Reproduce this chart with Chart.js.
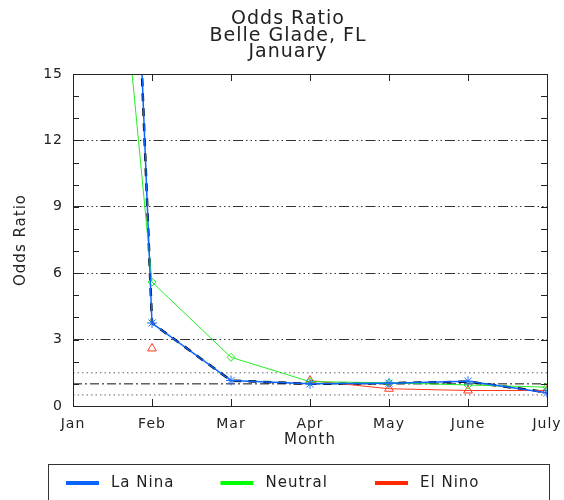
<!DOCTYPE html>
<html>
<head>
<meta charset="utf-8">
<style>
  html, body { margin: 0; padding: 0; background: #fff; }
  #wrap { width: 564px; height: 500px; position: relative; }
</style>
<script src="https://cdn.jsdelivr.net/npm/chart.js@4/dist/chart.umd.min.js"></script>
</head>
<body>
<div id="wrap"><canvas id="c" width="564" height="500"></canvas></div>
<script>
// Months on the x axis (index 0 = Jan)
const months = ['Jan', 'Feb', 'Mar', 'Apr', 'May', 'June', 'July'];

// Odds ratio per ENSO phase, by month (Jan values run far above the 15 cap)
const laNina  = [93, 3.75, 1.15, 1.0, 1.03, 1.12, 0.6];
const neutral = [43, 5.6, 2.2, 1.1, 1.05, 0.95, 0.85];
const elNino  = [null, 2.6, null, 1.15, 0.78, 0.7, 0.7];
// All-years curve drawn as heavy black dashes
const allYears = [92, 3.75, 1.15, 1.0, 1.03, 1.1, 0.62];

// Reference levels
const refOne = 1.0;
const refDotted = [1.5, 0.5];
const yMajorTicks = [0, 3, 6, 9, 12, 15];

const titleLines = ['Odds Ratio', 'Belle Glade, FL', 'January'];
const FONT = 'DejaVu Sans';

const toXY = arr => arr.map((v, i) => ({ x: i, y: v }));
const flat = v => [{ x: 0, y: v }, { x: months.length - 1, y: v }];

const datasets = [
  { label: '_ref1', data: flat(refOne), borderColor: '#111', borderWidth: 1,
    borderDash: [9, 3, 2, 3], pointRadius: 0, order: 10 },
  ...refDotted.map(v => ({ label: '_dot', data: flat(v), borderColor: '#666', borderWidth: 1,
    borderDash: [1.5, 3], pointRadius: 0, order: 10 })),
  { label: '_all', data: toXY(allYears), borderColor: '#000', borderWidth: 2.5,
    borderDash: [8, 7], pointRadius: 0, order: 5 },
  { label: 'La Nina', data: toXY(laNina), borderColor: '#0a64ff', borderWidth: 1.5,
    pointStyle: 'star', pointRadius: 5, pointBorderColor: '#1a6dff', pointBorderWidth: 1,
    pointBackgroundColor: 'transparent', order: 1 },
  { label: 'Neutral', data: toXY(neutral), borderColor: '#22ee22', borderWidth: 1,
    pointStyle: 'rectRot', pointRadius: 4, pointBorderColor: '#22ee22', pointBorderWidth: 1,
    pointBackgroundColor: 'transparent', order: 2 },
  { label: 'El Nino', data: toXY(elNino), borderColor: '#ff3a1a', borderWidth: 1,
    pointStyle: 'triangle', pointRadius: 5, pointBorderColor: '#ff3a1a', pointBorderWidth: 1,
    pointBackgroundColor: 'transparent', order: 3 }
];

const legendColors = { 'La Nina': '#0a64ff', 'Neutral': '#00ff00', 'El Nino': '#ff2a00' };

// Frame, inward tick marks, title block and boxed legend
const decor = {
  id: 'decor',
  beforeDraw(chart) { chart.ctx.letterSpacing = '1px'; },
  afterDraw(chart) {
    const { ctx, chartArea: a, scales: { x, y } } = chart;
    ctx.save();
    ctx.letterSpacing = '0px';
    ctx.strokeStyle = '#222';
    ctx.lineWidth = 1;
    ctx.strokeRect(Math.round(a.left) + 0.5, Math.round(a.top) + 0.5,
                   Math.round(a.right - a.left), Math.round(a.bottom - a.top));
    ctx.beginPath();
    for (let v = 0; v <= 15; v++) {
      const py = Math.round(y.getPixelForValue(v)) + 0.5;
      ctx.moveTo(a.left, py); ctx.lineTo(a.left + 6, py);
      ctx.moveTo(a.right, py); ctx.lineTo(a.right - 6, py);
    }
    months.forEach((m, i) => {
      const px = Math.round(x.getPixelForValue(i)) + 0.5;
      ctx.moveTo(px, a.bottom); ctx.lineTo(px, a.bottom - 7);
      ctx.moveTo(px, a.top); ctx.lineTo(px, a.top + 7);
    });
    ctx.stroke();

    // title block
    ctx.letterSpacing = '1px';
    ctx.fillStyle = '#222';
    ctx.font = '19px "' + FONT + '"';
    ctx.textAlign = 'center';
    ctx.textBaseline = 'alphabetic';
    const baselines = [24, 41, 57];
    titleLines.forEach((t, i) => ctx.fillText(t, 288, baselines[i]));

    // legend box
    ctx.strokeStyle = '#333';
    ctx.strokeRect(48.5, 464.5, 501, 60);
    ctx.font = '15px "' + FONT + '"';
    ctx.textAlign = 'left';
    ctx.textBaseline = 'middle';
    const items = chart.data.datasets.filter(d => !d.label.startsWith('_'));
    items.forEach((d, i) => {
      const x0 = 66 + i * 154.5;
      ctx.strokeStyle = legendColors[d.label];
      ctx.lineWidth = 4;
      ctx.beginPath();
      ctx.moveTo(x0, 483); ctx.lineTo(x0 + 33, 483);
      ctx.stroke();
      ctx.fillStyle = '#222';
      ctx.fillText(d.label, x0 + 45, 483);
    });
    ctx.restore();
  }
};

new Chart(document.getElementById('c'), {
  type: 'line',
  data: { datasets },
  plugins: [decor],
  options: {
    responsive: false,
    animation: false,
    layout: { padding: { top: 74, right: 17, left: 0, bottom: 48 } },
    plugins: { legend: { display: false }, title: { display: false }, tooltip: { enabled: false } },
    elements: { line: { tension: 0 } },
    scales: {
      x: {
        type: 'linear', min: 0, max: months.length - 1,
        afterFit: s => { s.height = 46; s.paddingLeft = 0; s.paddingRight = 0; },
        grid: { display: false, drawTicks: false },
        border: { color: '#222' },
        ticks: { stepSize: 1, padding: 10, color: '#222', font: { family: FONT, size: 14 },
                 callback: v => months[v] },
        title: { display: true, text: 'Month', color: '#222', font: { family: FONT, size: 15 },
                 padding: { top: 0, bottom: 3 } }
      },
      y: {
        min: 0, max: 15,
        afterFit: s => { s.width = 73; s.paddingTop = 0; s.paddingBottom = 0; },
        afterBuildTicks: s => { s.ticks = yMajorTicks.map(v => ({ value: v })); },
        grid: { drawTicks: false,
                color: c => (c.tick && c.tick.value > 0 && c.tick.value < 15) ? '#333' : 'transparent' },
        border: { color: '#222', dash: [10, 3, 1.5, 3, 1.5, 3, 1.5, 3] },
        ticks: { padding: 10, color: '#222', font: { family: FONT, size: 14 } },
        title: { display: true, text: 'Odds Ratio', color: '#222', font: { family: FONT, size: 15 },
                 padding: { top: 12, bottom: 0 } }
      }
    }
  }
});
</script>
</body>
</html>
